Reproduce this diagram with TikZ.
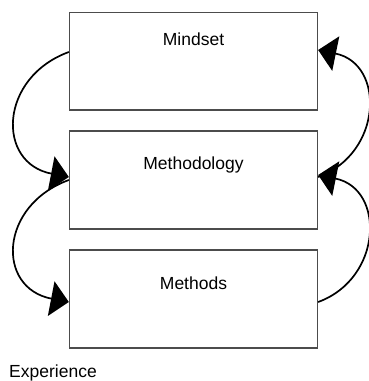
\documentclass[tikz,border=0pt]{standalone}
\usepackage{fontspec}
\setmainfont{Liberation Sans}
\usetikzlibrary{arrows.meta}
\begin{document}
\begin{tikzpicture}[x=1pt, y=-1pt,
  stage/.style={draw=black!70, line width=1.3pt, minimum width=248pt, minimum height=98pt, inner sep=0pt},
  label/.style={anchor=base, font=\fontsize{17.5}{20}\selectfont, inner sep=0pt},
  flow/.style={line width=1.7pt, -{Triangle[length=18pt, width=35pt]}}]
  \useasboundingbox (0,0) rectangle (369,381);

  % the three stacked stages
  \node[stage, minimum height=97.5pt] (b1) at (193.5,61.25) {};
  \node[stage] (b2) at (193.5,180) {};
  \node[stage] (b3) at (193.5,299) {};

  \node[label] (t1) at (193.5,45) {Mindset};
  \node[label] (t2) at (193.5,169.3) {Methodology};
  \node[label] (t3) at (193.5,289.3) {Methods};
  \node[label, anchor=base west] (t4) at (9,377) {Experience};

  % downward loops on the left
  \draw[flow] (b1.west |- 0,52) .. controls (-1,77.5) and (-4,163) .. (b2.west |- 0,177);
  \draw[flow] (b2.west |- 0,180) .. controls (-1,205.5) and (-4,288) .. (b3.west |- 0,302);

  % upward loops on the right
  \draw[flow] (b3.east |- 0,302) .. controls (382.5,278.5) and (385.6,188.8) .. (b2.east |- 0,175);
  \draw[flow] (b2.east |- 0,177) .. controls (382.5,153.5) and (385.6,63.8) .. (b1.east |- 0,50);
\end{tikzpicture}
\end{document}
